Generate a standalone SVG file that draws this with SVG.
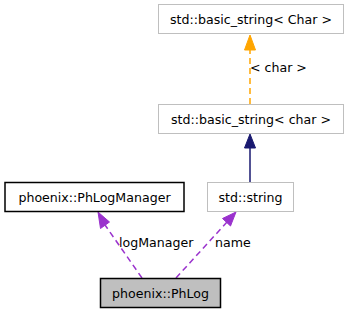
<svg xmlns="http://www.w3.org/2000/svg" width="347" height="311" viewBox="0 0 347 311">
<style>
  text { font-family: "DejaVu Sans", sans-serif; font-size: 12.6px; fill: #000; }
  .node text { text-anchor: middle; }
  .ext rect { fill: #fff; stroke: #bfbfbf; stroke-width: 1; }
  .cls rect { fill: #fff; stroke: #000; stroke-width: 1.5; }
  .cur rect { fill: #bfbfbf; stroke: #000; stroke-width: 1.5; }
  .edge { fill: none; stroke-width: 1.5; }
</style>
<defs>
  <marker id="ahOrange" viewBox="0 0 10 10" refX="10" refY="5" markerWidth="7" markerHeight="7" markerUnits="userSpaceOnUse" orient="auto">
    <path d="M0,0 L10,5 L0,10 Z" fill="#ffa500"/>
  </marker>
</defs>
<rect width="347" height="311" fill="#fff"/>

<g id="connectors">
  <!-- template instantiation -->
  <line class="edge" x1="250" y1="104" x2="250" y2="50" stroke="#ffa500" stroke-dasharray="6,4"/>
  <path d="M244.5,50 L250,35 L255.5,50 Z" fill="#ffa500" stroke="#ffa500"/>
  <text x="250" y="72">&lt; char &gt;</text>
  <!-- inheritance -->
  <line class="edge" x1="250" y1="182" x2="250" y2="148" stroke="#191970"/>
  <path d="M244.5,148 L250,134 L255.5,148 Z" fill="#191970" stroke="#191970"/>
  <!-- usage: logManager -->
  <line class="edge" x1="142" y1="278" x2="105" y2="225" stroke="#9a32cd" stroke-dasharray="6,4"/>
  <path d="M100.5,228.5 L98,212 L109.5,222 Z" fill="#9a32cd" stroke="#9a32cd"/>
  <text x="119" y="247">logManager</text>
  <!-- usage: name -->
  <line class="edge" x1="176" y1="278" x2="227" y2="222" stroke="#9a32cd" stroke-dasharray="6,4"/>
  <path d="M222.5,218.5 L236,212 L230.5,226 Z" fill="#9a32cd" stroke="#9a32cd"/>
  <text x="215" y="247">name</text>
</g>

<g id="node_basic_string_Char" class="node ext">
  <rect x="158.5" y="4.5" width="185" height="29"/>
  <text x="251" y="23.5">std::basic_string&lt; Char &gt;</text>
</g>
<g id="node_basic_string_char" class="node ext">
  <rect x="158.5" y="104.5" width="185" height="29"/>
  <text x="251" y="123.5">std::basic_string&lt; char &gt;</text>
</g>
<g id="node_std_string" class="node ext">
  <rect x="207.5" y="182.5" width="86" height="29"/>
  <text x="250.5" y="201.5">std::string</text>
</g>
<g id="node_PhLogManager" class="node cls">
  <rect x="5" y="182.5" width="179" height="29"/>
  <text x="94.5" y="201.5">phoenix::PhLogManager</text>
</g>
<g id="node_PhLog" class="node cur">
  <rect x="100.5" y="278.5" width="120" height="29"/>
  <text x="160.5" y="297.5">phoenix::PhLog</text>
</g>
</svg>
